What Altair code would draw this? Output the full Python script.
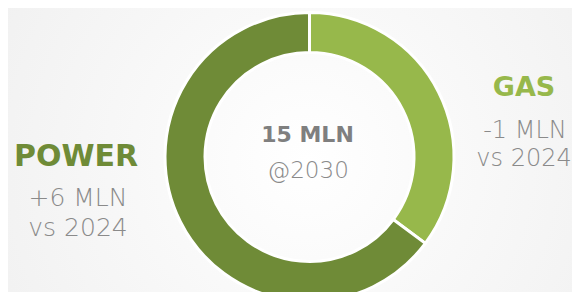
import altair as alt
import pandas as pd

# data
segments = ["GAS", "POWER"]
shares = [35.2, 64.8]
seg_order = [0, 1]

center_title = ["15 MLN", "@2030"]
power_lines = ["POWER", "+6 MLN", "vs 2024"]
gas_lines = ["GAS", "-1 MLN", "vs 2024"]

W, H = 564, 284
CX, CY = 301.5, 149
FONT = "DejaVu Sans"

df = pd.DataFrame({"segment": segments, "share": shares, "ord": seg_order})

bg = alt.Chart(pd.DataFrame({"a": [0]})).mark_rect(
    color=alt.Gradient(
        gradient="radial",
        x1=0.53, y1=0.52, r1=0,
        x2=0.53, y2=0.52, r2=0.75,
        stops=[alt.GradientStop(offset=0, color="#ffffff"),
               alt.GradientStop(offset=1, color="#eeeeee")],
    )
).encode(x=alt.value(0), x2=alt.value(W), y=alt.value(0), y2=alt.value(H))

donut = alt.Chart(df).mark_arc(
    outerRadius=144.5, innerRadius=104.5, stroke="white", strokeWidth=3
).encode(
    theta=alt.Theta("share:Q", stack=True),
    order=alt.Order("ord:Q"),
    color=alt.Color("segment:N",
                    scale=alt.Scale(domain=segments, range=["#97b84b", "#6f8b37"]),
                    legend=None),
    x=alt.value(CX), y=alt.value(CY),
)


def label(txt, x, y, size, weight, color):
    return alt.Chart(pd.DataFrame({"t": [txt]})).mark_text(
        font=FONT, fontSize=size, fontWeight=weight, color=color,
        align="center", baseline="alphabetic"
    ).encode(text="t:N", x=alt.value(x), y=alt.value(y))


GRAY = "#8a8a8a"
layers = [
    bg, donut,
    label(center_title[0], 299.5, 134, 22, "bold", "#7f7f7f"),
    label(center_title[1], 300, 170, 23, 300, GRAY),
    label(power_lines[0], 68, 157.7, 30, "bold", "#6f8b37"),
    label(power_lines[1], 70, 197.7, 25, 300, GRAY),
    label(power_lines[2], 70, 227.7, 25, 300, GRAY),
    label(gas_lines[0], 516, 88, 27, "bold", "#97b84b"),
    label(gas_lines[1], 517, 130, 24, 300, GRAY),
    label(gas_lines[2], 516, 157.7, 24, 300, GRAY),
]

chart = alt.layer(*layers).properties(
    width=W, height=H, autosize=alt.AutoSizeParams(type="none"), padding=0,
    background="#f4f4f4"
).configure_view(stroke=None)

chart.save("out.html", embed_options={"renderer": "svg", "actions": False})
